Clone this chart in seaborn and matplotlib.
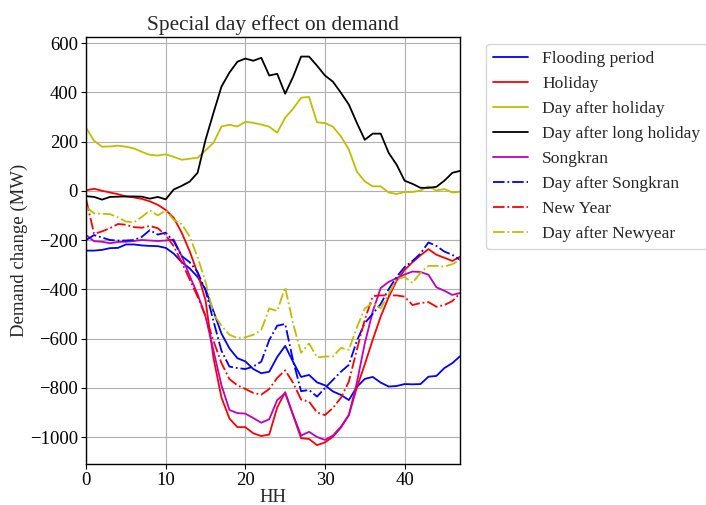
import matplotlib
matplotlib.use("Agg")
import matplotlib.pyplot as plt
import seaborn as sns
import pandas as pd
import numpy as np

hh = list(range(48))

flooding_period = [-243, -243, -240, -233, -232, -218, -218, -222, -224, -225,
                   -232, -255, -290, -315, -350, -400, -490, -580, -640, -680,
                   -693, -724, -741, -735, -675, -630, -695, -756, -748, -778,
                   -790, -815, -829, -850, -797, -764, -756, -779, -795, -793,
                   -785, -786, -785, -755, -752, -720, -700, -671]

holiday = [2, 8, 0, -7, -14, -23, -27, -33, -43, -57,
           -78, -110, -170, -245, -335, -445, -680, -840, -925, -960,
           -960, -985, -996, -990, -880, -818, -912, -1005, -1008, -1033,
           -1022, -999, -962, -911, -800, -705, -605, -511, -432, -365,
           -322, -290, -262, -237, -260, -272, -285, -267]

day_after_holiday = [255, 203, 179, 180, 183, 179, 172, 158, 146, 143,
                     148, 138, 126, 130, 134, 164, 195, 261, 268, 261,
                     280, 276, 269, 260, 236, 297, 333, 378, 381, 278,
                     275, 260, 221, 167, 78, 38, 18, 18, -7, -13,
                     -5, -5, 1, 18, 1, 7, -7, -4]

day_after_long_holiday = [-22, -25, -36, -25, -24, -23, -23, -24, -32, -25,
                          -35, 5, 20, 37, 73, 207, 317, 423, 480, 524,
                          537, 528, 540, 468, 475, 394, 463, 545, 545, 508,
                          468, 443, 398, 350, 276, 207, 232, 232, 154, 106,
                          41, 28, 12, 12, 16, 41, 73, 81]

songkran = [-180, -205, -207, -213, -208, -207, -204, -200, -202, -204,
            -202, -198, -265, -345, -420, -510, -650, -790, -890, -903,
            -905, -923, -942, -928, -850, -822, -910, -994, -979, -1000,
            -1012, -994, -958, -911, -780, -620, -490, -395, -370, -355,
            -340, -328, -330, -341, -392, -406, -423, -415]

day_after_songkran = [-200, -180, -190, -200, -202, -202, -200, -187, -160, -178,
                      -170, -205, -265, -290, -330, -405, -530, -650, -714, -720,
                      -724, -714, -694, -606, -548, -541, -690, -814, -809, -836,
                      -801, -768, -735, -707, -610, -537, -500, -460, -400, -350,
                      -310, -285, -255, -210, -224, -247, -260, -282]

new_year = [-35, -175, -165, -152, -135, -138, -148, -150, -143, -152,
            -180, -225, -290, -360, -430, -510, -610, -700, -765, -790,
            -805, -821, -828, -805, -760, -729, -780, -848, -856, -900,
            -911, -882, -841, -775, -646, -524, -428, -425, -425, -425,
            -430, -464, -456, -452, -471, -464, -448, -415]

day_after_newyear = [-65, -92, -94, -95, -108, -125, -128, -106, -80, -100,
                     -80, -118, -135, -186, -270, -370, -500, -548, -585, -598,
                     -595, -585, -565, -478, -488, -392, -540, -658, -620, -677,
                     -673, -673, -638, -646, -555, -478, -455, -478, -418, -360,
                     -350, -374, -333, -305, -305, -308, -298, -280]

series_names = ["Flooding period", "Holiday", "Day after holiday",
                "Day after long holiday", "Songkran", "Day after Songkran",
                "New Year", "Day after Newyear"]
series_values = [flooding_period, holiday, day_after_holiday,
                 day_after_long_holiday, songkran, day_after_songkran,
                 new_year, day_after_newyear]
series_colors = ["#0000ff", "#ff0000", "#bfbf00", "#000000",
                 "#bf00bf", "#0000ff", "#ff0000", "#bfbf00"]
series_styles = ["-", "-", "-", "-", "-", "-.", "-.", "-."]

sns.set_style("ticks")
plt.rcParams["font.family"] = ["Liberation Serif", "DejaVu Serif"]
plt.rcParams["axes.unicode_minus"] = True

df = pd.DataFrame({name: vals for name, vals in zip(series_names, series_values)})
df["HH"] = hh

fig = plt.figure(figsize=(7.06, 5.05), dpi=100)
ax = fig.add_axes([0.122, 0.081, 0.530, 0.846])

for name, color, ls in zip(series_names, series_colors, series_styles):
    sns.lineplot(data=df, x="HH", y=name, ax=ax, color=color,
                 linestyle=ls, linewidth=1.3, label=name)

ax.set_xlim(0, 47)
ax.set_ylim(-1110, 625)
ax.set_xticks([0, 10, 20, 30, 40])
ax.set_yticks([-1000, -800, -600, -400, -200, 0, 200, 400, 600])
ax.grid(True, color="#b0b0b0", linewidth=0.8)
for sp in ax.spines.values():
    sp.set_visible(True)
    sp.set_color("black")
    sp.set_linewidth(1.0)
ax.tick_params(axis="both", labelsize=13.5, direction="out", length=3.5,
               width=0.8, color="black", labelcolor="black", pad=2.5)
ax.set_xlabel("HH", fontsize=13.5, labelpad=0)
ax.set_ylabel("Demand change (MW)", fontsize=13.5, labelpad=1)
ax.set_title("Special day effect on demand", fontsize=15.3, pad=5)

leg = ax.legend(loc="upper left", bbox_to_anchor=(1.05, 1.0), fontsize=12.6,
                frameon=True, fancybox=True, framealpha=0.8,
                edgecolor="#cccccc", borderaxespad=0.4)

fig.savefig("out.png", dpi=100)
